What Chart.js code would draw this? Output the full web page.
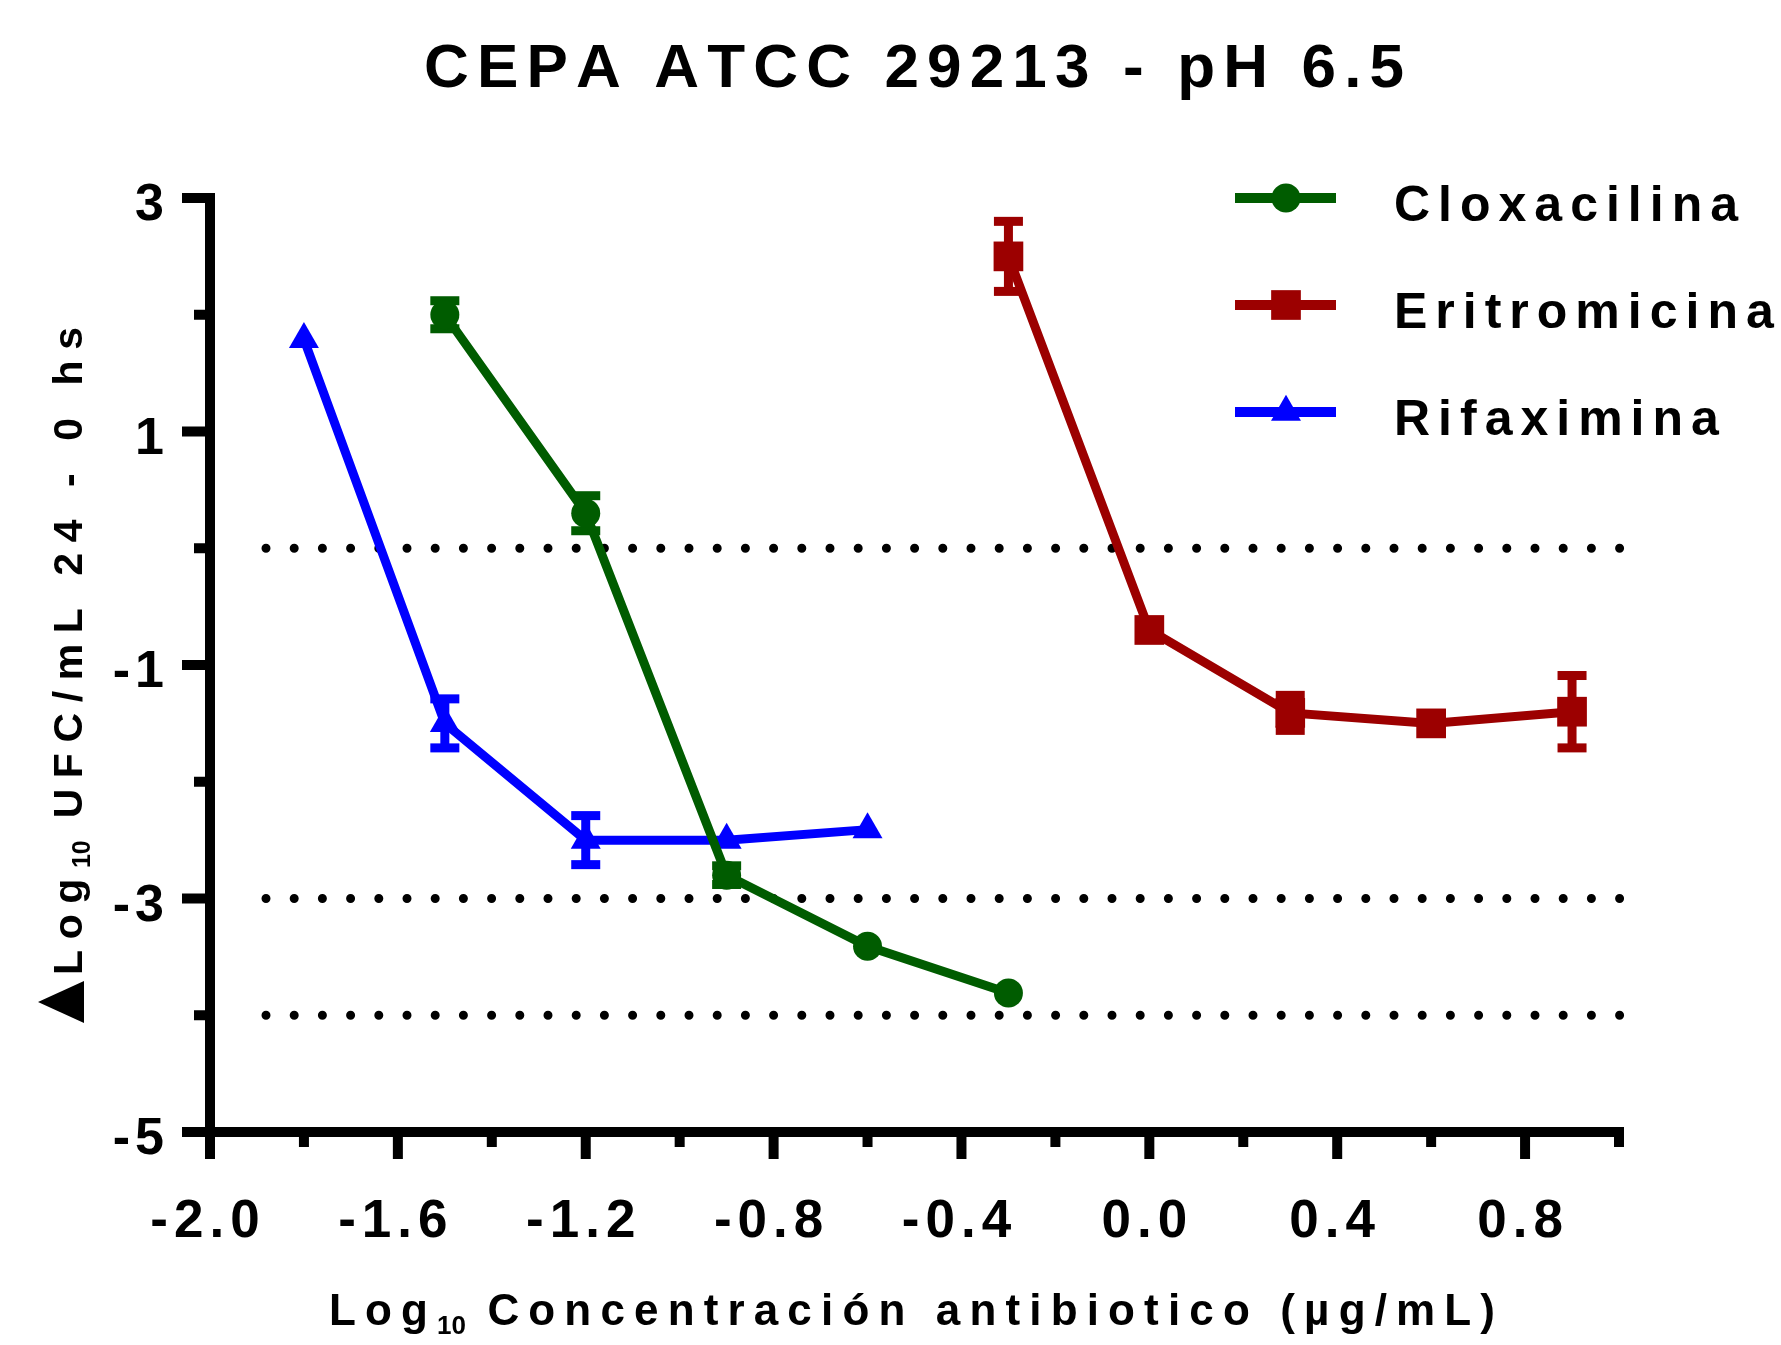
<!DOCTYPE html>
<html>
<head>
<meta charset="utf-8">
<script src="https://cdn.jsdelivr.net/npm/chart.js@4.4.1/dist/chart.umd.min.js"></script>
<style>
  body { margin: 0; background: #fff; }
  #wrap { width: 1781px; height: 1345px; }
</style>
</head>
<body>
<div id="wrap"><canvas id="grafico"></canvas></div>
<script>
// datos
const seriesNames = ['Cloxacilina', 'Eritromicina', 'Rifaximina'];

const xCloxa = [-1.5, -1.2, -0.9, -0.6, -0.3];
const yCloxa = [2.00, 0.30, -2.80, -3.41, -3.81];
const errCloxa = [0.12, 0.15, 0.08, 0, 0];

const xEritro = [-0.3, 0.0, 0.3, 0.6, 0.9];
const yEritro = [2.50, -0.70, -1.41, -1.50, -1.40];
const errEritro = [0.30, 0, 0.15, 0, 0.31];

const xRifax = [-1.8, -1.5, -1.2, -0.9, -0.6];
const yRifax = [1.79, -1.50, -2.50, -2.50, -2.41];
const errRifax = [0, 0.21, 0.21, 0, 0];

// líneas punteadas de referencia
const refLines = [0, -3, -4];

// ticks
const xMajor = [-2.0, -1.6, -1.2, -0.8, -0.4, 0.0, 0.4, 0.8];
const xMinor = [-1.8, -1.4, -1.0, -0.6, -0.2, 0.2, 0.6, 1.0];
const xTickLabels = ['-2.0', '-1.6', '-1.2', '-0.8', '-0.4', '0.0', '0.4', '0.8'];
const yMajor = [3, 1, -1, -3, -5];
const yMinor = [2, 0, -2, -4];
const yTickLabels = ['3', '1', '-1', '-3', '-5'];

const FONT = '"Liberation Sans", Arial, sans-serif';
const colores = ['#005c00', '#9c0000', '#0000ff'];
const estilos = ['circle', 'rect', 'triangle'];
const radios = [14.5, 21, 17.3];

function toPoints(xs, ys) {
    return xs.map((x, i) => ({ x: x, y: ys[i] }));
}
const errores = [errCloxa, errEritro, errRifax];

// texto con espaciado entre letras, por segmentos (para subíndices)
// un segmento con "sp" propio usa ese espaciado fijo
function medir(ctx, segs) {
    let w = 0, n = 0;
    segs.forEach(s => {
        ctx.font = 'bold ' + s.size + 'px ' + FONT;
        for (const ch of s.text) {
            w += ctx.measureText(ch).width;
            if (s.sp !== undefined) w += s.sp; else n++;
        }
    });
    return { w: w, n: n };
}
function escribir(ctx, segs, x, y, sp) {
    segs.forEach(s => {
        ctx.font = 'bold ' + s.size + 'px ' + FONT;
        for (const ch of s.text) {
            ctx.fillText(ch, x, y + (s.dy || 0));
            x += ctx.measureText(ch).width + (s.sp !== undefined ? s.sp : sp);
        }
    });
}
function escribirAncho(ctx, segs, x, y, ancho) {
    const m = medir(ctx, segs);
    const sp = (ancho - m.w) / (m.n - 1);
    escribir(ctx, segs, x, y, sp);
}
function escribirCentro(ctx, segs, cx, y, sp) {
    const m = medir(ctx, segs);
    escribir(ctx, segs, cx - (m.w + sp * (m.n - 1)) / 2, y, sp);
}
function escribirDerecha(ctx, segs, rx, y, sp) {
    const m = medir(ctx, segs);
    escribir(ctx, segs, rx - (m.w + sp * (m.n - 1)), y, sp);
}

function marcador(ctx, estilo, r, x, y, color) {
    ctx.fillStyle = color;
    ctx.beginPath();
    if (estilo === 'circle') {
        ctx.arc(x, y, r, 0, Math.PI * 2);
    } else if (estilo === 'rect') {
        const s = r * Math.SQRT1_2;
        ctx.rect(x - s, y - s, 2 * s, 2 * s);
    } else {
        ctx.moveTo(x, y - r);
        ctx.lineTo(x + r * Math.sin(Math.PI / 3), y + r / 2);
        ctx.lineTo(x - r * Math.sin(Math.PI / 3), y + r / 2);
        ctx.closePath();
    }
    ctx.fill();
}

const fondoPlugin = {
    id: 'fondo',
    beforeDatasetsDraw(chart) {
        const ctx = chart.ctx;
        const xs = chart.scales.x, ys = chart.scales.y;
        ctx.save();
        // líneas punteadas
        ctx.strokeStyle = '#000';
        ctx.lineWidth = 9;
        ctx.lineCap = 'round';
        ctx.setLineDash([0, 28.2]);
        refLines.forEach(v => {
            const py = ys.getPixelForValue(v);
            ctx.beginPath();
            ctx.moveTo(xs.left + 56, py);
            ctx.lineTo(xs.right + 2, py);
            ctx.stroke();
        });
        ctx.setLineDash([]);
        ctx.lineCap = 'butt';
        // barras de error
        chart.data.datasets.forEach((ds, i) => {
            ctx.fillStyle = colores[i];
            ds.data.forEach((p, j) => {
                const e = errores[i][j];
                if (!e) return;
                const px = xs.getPixelForValue(p.x);
                const top = ys.getPixelForValue(p.y + e);
                const bot = ys.getPixelForValue(p.y - e);
                ctx.fillRect(px - 4.5, top, 9, bot - top);
                ctx.fillRect(px - 14.5, top - 4.5, 29, 9);
                ctx.fillRect(px - 14.5, bot - 4.5, 29, 9);
            });
        });
        ctx.restore();
    }
};

const ejesPlugin = {
    id: 'ejes',
    afterDraw(chart) {
        const ctx = chart.ctx;
        const xs = chart.scales.x, ys = chart.scales.y;
        const ax = xs.getPixelForValue(-2);
        const ay = ys.getPixelForValue(-5);
        const yTop = ys.getPixelForValue(3);
        const xEnd = xs.getPixelForValue(1);
        ctx.save();
        ctx.fillStyle = '#000';
        ctx.textAlign = 'left';
        ctx.textBaseline = 'alphabetic';

        // ejes
        ctx.fillRect(ax - 5, yTop - 5, 10, ay - yTop + 10);
        ctx.fillRect(ax - 5, ay - 5, xEnd - ax + 10, 10);
        // ticks y
        yMajor.forEach((v, i) => {
            const py = ys.getPixelForValue(v);
            ctx.fillRect(ax - 28, py - 5, 28, 10);
            escribirDerecha(ctx, [{ text: yTickLabels[i], size: 52 }], 164, py + 22, 5);
        });
        yMinor.forEach(v => {
            const py = ys.getPixelForValue(v);
            ctx.fillRect(ax - 16, py - 5, 16, 10);
        });
        // ticks x
        xMajor.forEach((v, i) => {
            const px = xs.getPixelForValue(v);
            ctx.fillRect(px - 5, ay, 10, 27);
            escribirCentro(ctx, [{ text: xTickLabels[i], size: 53 }], px - 5, 1237, 6);
        });
        xMinor.forEach(v => {
            const px = xs.getPixelForValue(v);
            ctx.fillRect(px - 5, ay, 10, 15);
        });

        // título
        escribirAncho(ctx, [{ text: 'CEPA ATCC 29213 - pH 6.5', size: 62 }], 424, 87, 980);

        // título eje x
        escribirAncho(ctx, [
            { text: 'Log', size: 44 },
            { text: '10', size: 26, dy: 9, sp: 0 },
            { text: ' Concentración antibiotico (µg/mL)', size: 44 }
        ], 329, 1325, 1166);

        // título eje y (girado)
        ctx.beginPath();
        ctx.moveTo(38, 1002);
        ctx.lineTo(84, 981);
        ctx.lineTo(84, 1023);
        ctx.closePath();
        ctx.fill();
        ctx.save();
        ctx.translate(82, 975);
        ctx.rotate(-Math.PI / 2);
        escribirAncho(ctx, [
            { text: 'Log', size: 41 },
            { text: '10', size: 25, dy: 8, sp: 0 },
            { text: ' UFC/mL 24 - 0 hs', size: 41 }
        ], 0, 0, 648);
        ctx.restore();

        // leyenda
        const legY = [198, 305, 412];
        seriesNames.forEach((nombre, i) => {
            ctx.fillStyle = colores[i];
            ctx.fillRect(1235, legY[i] - 5, 101, 10);
            marcador(ctx, estilos[i], radios[i], 1286, legY[i], colores[i]);
            ctx.fillStyle = '#000';
            escribir(ctx, [{ text: nombre, size: 50 }], 1394, legY[i] + 23, 8);
        });
        ctx.restore();
    }
};

const ctx = document.getElementById('grafico').getContext('2d');
new Chart(ctx, {
    type: 'line',
    data: {
        datasets: [
            { label: seriesNames[0], data: toPoints(xCloxa, yCloxa) },
            { label: seriesNames[1], data: toPoints(xEritro, yEritro) },
            { label: seriesNames[2], data: toPoints(xRifax, yRifax) }
        ].map((ds, i) => Object.assign(ds, {
            borderColor: colores[i],
            backgroundColor: colores[i],
            borderWidth: 9,
            pointStyle: estilos[i],
            pointRadius: radios[i],
            pointBorderWidth: 0,
            pointBackgroundColor: colores[i],
            tension: 0,
            clip: false
        }))
    },
    options: {
        responsive: true,
        maintainAspectRatio: false,
        animation: false,
        layout: { padding: { left: 210, top: 198, right: 162, bottom: 213 } },
        plugins: {
            legend: { display: false },
            title: { display: false },
            tooltip: { enabled: false }
        },
        scales: {
            x: { type: 'linear', min: -2, max: 1, display: false },
            y: { type: 'linear', min: -5, max: 3, display: false }
        }
    },
    plugins: [fondoPlugin, ejesPlugin]
});
</script>
</body>
</html>
